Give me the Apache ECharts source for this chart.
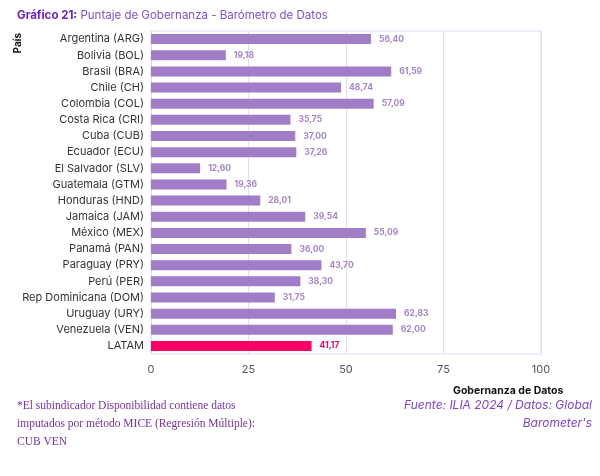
<!DOCTYPE html>
<html>
<head>
<meta charset="utf-8">
<script src="https://cdn.jsdelivr.net/npm/echarts@6/dist/echarts.min.js"></script>
<style>
  html, body { margin: 0; padding: 0; background: #fff; }
  #chart { width: 600px; height: 476px; }
</style>
</head>
<body>
<div id="chart"></div>
<script>
// countries, top to bottom
var countries = [
    'Argentina (ARG)', 'Bolivia (BOL)', 'Brasil (BRA)', 'Chile (CH)',
    'Colombia (COL)', 'Costa Rica (CRI)', 'Cuba (CUB)', 'Ecuador (ECU)',
    'El Salvador (SLV)', 'Guatemala (GTM)', 'Honduras (HND)', 'Jamaica (JAM)',
    'México (MEX)', 'Panamá (PAN)', 'Paraguay (PRY)', 'Perú (PER)',
    'Rep Dominicana (DOM)', 'Uruguay (URY)', 'Venezuela (VEN)', 'LATAM'
];
// governance score
var scores = [
    56.40, 19.18, 61.59, 48.74,
    57.09, 35.75, 37.00, 37.26,
    12.60, 19.36, 28.01, 39.54,
    55.09, 36.00, 43.70, 38.30,
    31.75, 62.83, 62.00, 41.17
];
var xTicks = [0, 25, 50, 75, 100];

var barColor = '#A17DC8';
var latamColor = '#FF0066';

var chart = echarts.init(document.getElementById('chart'));

var barData = scores.map(function (v, i) {
    var isLatam = countries[i] === 'LATAM';
    return {
        value: v,
        itemStyle: { color: isLatam ? latamColor : barColor },
        label: { color: isLatam ? latamColor : '#A583D2' }
    };
});

var option = {
    animation: false,
    textStyle: { fontFamily: 'Inter, "Noto Sans", sans-serif' },
    title: [
        {
            left: 12, top: 5,
            text: '{b|Gráfico 21:}{n| Puntaje de Gobernanza - Barómetro de Datos}',
            textStyle: {
                fontWeight: 'normal',
                rich: {
                    b: { fontSize: 11.5, fontWeight: 'bold', color: '#6A22C8', fontFamily: 'Inter' },
                    n: { fontSize: 11.5, fontWeight: 'normal', color: '#7E4FD3', fontFamily: 'Inter' }
                }
            }
        },
        {
            left: 448, top: 380,
            text: 'Gobernanza de Datos',
            textStyle: { fontSize: 10.5, fontWeight: 'bold', color: '#111', fontFamily: 'Inter' }
        },
        {
            left: 12, top: 392,
            text: '*El subindicador Disponibilidad contiene datos\nimputados por método MICE (Regresión Múltiple):\nCUB VEN',
            textStyle: {
                fontSize: 11.5, color: '#7A2FA8', lineHeight: 18,
                fontFamily: '"Liberation Serif", "DejaVu Serif", serif', fontWeight: 'normal'
            }
        }
    ],
    graphic: [
        {
            type: 'text',
            left: 13, top: 33,
            rotation: Math.PI / 2,
            style: {
                text: 'País',
                font: 'bold 10px Inter, sans-serif',
                fill: '#111'
            }
        },
        {
            type: 'text',
            x: 592, y: 396,
            style: {
                text: 'Fuente: ILIA 2024 / Datos: Global\nBarometer\'s',
                font: 'italic 12px Inter, sans-serif',
                fill: '#7E44CC',
                align: 'right',
                lineHeight: 18
            }
        }
    ],
    grid: {
        left: 151, right: 59, top: 31, bottom: 122,
        show: true,
        borderColor: '#E2DCF6',
        borderWidth: 1
    },
    xAxis: {
        type: 'value',
        min: 0, max: 100, interval: 25,
        axisLine: { show: false },
        axisTick: { show: false },
        splitLine: { lineStyle: { color: '#E2DCF6', width: 1 } },
        axisLabel: {
            color: '#555', fontSize: 11, margin: 10,
            formatter: function (v) { return xTicks.indexOf(v) >= 0 ? String(v) : ''; }
        }
    },
    yAxis: {
        type: 'category',
        inverse: true,
        data: countries,
        axisLine: { show: false },
        axisTick: { show: false },
        axisLabel: { color: '#333', fontSize: 11, margin: 7 }
    },
    series: [{
        type: 'bar',
        data: barData,
        barWidth: 10,
        label: {
            show: true,
            position: 'right',
            distance: 8,
            fontSize: 8.5,
            fontWeight: 'bold',
            formatter: function (p) { return p.value.toFixed(2).replace('.', ','); }
        }
    }]
};

chart.setOption(option);
</script>
</body>
</html>
